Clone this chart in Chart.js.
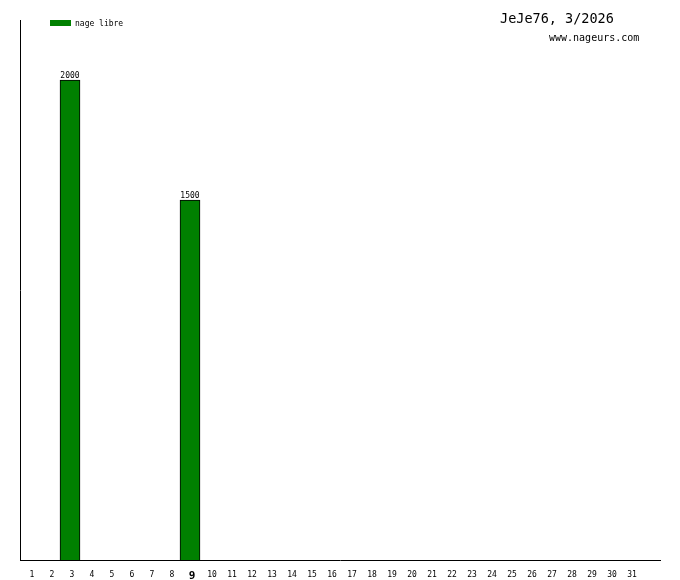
<!DOCTYPE html>
<html>
<head>
<meta charset="utf-8">
<script src="https://cdn.jsdelivr.net/npm/chart.js@4.4.1/dist/chart.umd.min.js"></script>
<style>
  body { margin: 0; background: #fff; }
  #wrap { width: 680px; height: 580px; }
</style>
</head>
<body>
<div id="wrap"><canvas id="graphique" width="680" height="580"></canvas></div>
<script>
// Jours du mois (une case vide en plus à la fin, comme sur l'original)
const jours = Array.from({ length: 31 }, (_, i) => String(i + 1)).concat(['']);
const nageLibre = [null, null, 2000, null, null, null, null, null, 1500];
const jourCourant = '9';
const titre = 'JeJe76, 3/2026';
const site = 'www.nageurs.com';
const yMax = 2250;

const donnees = jours.map((_, i) => nageLibre[i] ?? null);

// Textes : titre, site, légende et valeurs au-dessus des barres
const textesPlugin = {
    id: 'textes',
    afterDatasetsDraw(chart) {
        const ctx = chart.ctx;
        ctx.save();
        ctx.fillStyle = '#000';
        ctx.textBaseline = 'alphabetic';

        ctx.font = '13.5px "DejaVu Sans Mono"';
        ctx.textAlign = 'left';
        ctx.fillText(titre, 500, 23);

        ctx.font = '10px "DejaVu Sans Mono"';
        ctx.fillText(site, 549, 41);

        // légende
        ctx.fillStyle = '#008000';
        ctx.fillRect(50, 20, 21, 6);
        ctx.fillStyle = '#000';
        ctx.font = '8px "DejaVu Sans Mono"';
        ctx.fillText('nage libre', 75, 26);

        // valeurs
        ctx.textAlign = 'center';
        const meta = chart.getDatasetMeta(0);
        meta.data.forEach((bar, i) => {
            const v = donnees[i];
            if (v == null) return;
            ctx.fillText(String(v), bar.x, bar.y - 2);
        });
        ctx.restore();
    }
};

new Chart(document.getElementById('graphique'), {
    type: 'bar',
    data: {
        labels: jours,
        datasets: [{
            label: 'nage libre',
            data: donnees,
            backgroundColor: '#008000',
            borderColor: '#000',
            borderWidth: 1,
            borderSkipped: 'bottom',
            barPercentage: 1,
            categoryPercentage: 1
        }]
    },
    options: {
        responsive: false,
        animation: false,
        layout: { padding: { left: 20, top: 20, right: 20, bottom: 0 } },
        plugins: {
            legend: { display: false },
            tooltip: { enabled: false }
        },
        scales: {
            x: {
                grid: { display: false },
                border: { display: true, color: '#000', width: 1 },
                ticks: {
                    color: '#000',
                    maxRotation: 0,
                    autoSkip: false,
                    padding: 2,
                    labelOffset: 2,
                    font: (c) => c.tick && c.tick.label === jourCourant
                        ? { family: 'DejaVu Sans Mono', size: 11, weight: 'bold' }
                        : { family: 'DejaVu Sans Mono', size: 8 }
                },
                afterFit(scale) { scale.height = 20; }
            },
            y: {
                min: 0,
                max: yMax,
                grid: { display: false },
                border: { display: true, color: '#000', width: 1 },
                ticks: { display: false },
                afterFit(scale) { scale.width = 0; }
            }
        }
    },
    plugins: [textesPlugin]
});
</script>
</body>
</html>
